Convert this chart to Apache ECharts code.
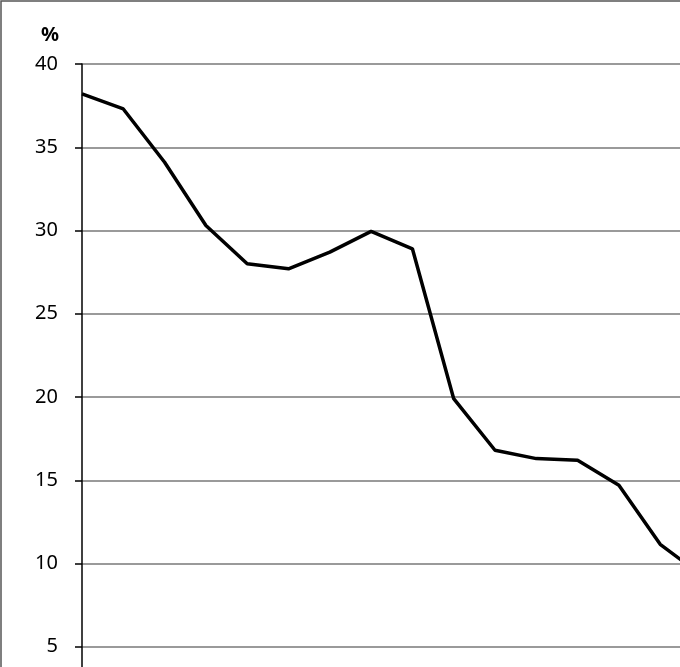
<!DOCTYPE html>
<html>
<head>
<meta charset="utf-8">
<script src="https://cdn.jsdelivr.net/npm/echarts@6/dist/echarts.min.js"></script>
<style>
html,body{margin:0;padding:0;background:#fff;}
#chart{width:680px;height:667px;}
</style>
</head>
<body>
<div id="chart"></div>
<script>
var categories = ['1','2','3','4','5','6','7','8','9','10','11','12','13','14','15','16'];
var values = [38.2, 37.3, 34.1, 30.3, 28.0, 27.7, 28.7, 29.95, 28.9, 19.9, 16.8, 16.3, 16.2, 14.7, 11.15, 9.3];
var yTicks = {min: 0, max: 40, interval: 5};
var unitLabel = '%';

var chart = echarts.init(document.getElementById('chart'));
chart.setOption({
  animation: false,
  graphic: [{
    type: 'rect',
    shape: {x: 1, y: 1, width: 800, height: 800},
    style: {fill: 'none', stroke: '#555', lineWidth: 1.5},
    silent: true,
    z: 0
  }],
  grid: {left: 82, top: 64, right: -21.5, bottom: -63, containLabel: false, outerBoundsMode: 'none'},
  xAxis: {
    type: 'category',
    data: categories,
    boundaryGap: false,
    axisLine: {lineStyle: {color: '#000', width: 1.5}},
    axisTick: {show: false},
    axisLabel: {show: false}
  },
  yAxis: {
    type: 'value',
    min: yTicks.min,
    max: yTicks.max,
    interval: yTicks.interval,
    name: unitLabel,
    nameLocation: 'end',
    nameGap: 19,
    nameTextStyle: {
      fontFamily: 'Noto Sans',
      fontSize: 20,
      fontWeight: 'bold',
      color: '#000',
      padding: [0, 64, 0, 0]
    },
    axisLine: {show: true, lineStyle: {color: '#000', width: 1.5}},
    axisTick: {show: true, length: 7, lineStyle: {color: '#000', width: 1.5}},
    axisLabel: {
      margin: 24,
      fontFamily: 'Noto Sans',
      fontSize: 20,
      color: '#000'
    },
    splitLine: {show: true, lineStyle: {color: '#9a9a9a', width: 1.8}}
  },
  series: [{
    type: 'line',
    data: values,
    symbol: 'none',
    lineStyle: {color: '#000', width: 3.5},
    itemStyle: {color: '#000'}
  }]
});
</script>
</body>
</html>
